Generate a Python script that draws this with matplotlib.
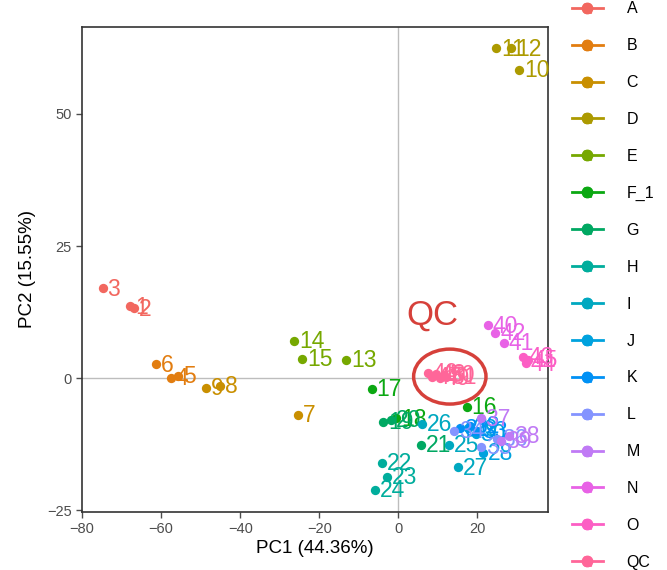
import matplotlib
matplotlib.use("Agg")
import matplotlib.pyplot as plt
from matplotlib.lines import Line2D
from matplotlib.patches import Ellipse
from matplotlib.legend_handler import HandlerTuple

plt.rcParams['font.family'] = ['Liberation Sans', 'DejaVu Sans']

# groups and colours (ggplot hue palette, 16 levels)
groups = ["A", "B", "C", "D", "E", "F_1", "G", "H", "I", "J", "K", "L", "M", "N", "O", "QC"]
colors = ["#F2675F", "#E27D10", "#C98F00", "#AC9A00", "#76A800", "#0BA812", "#00A862",
          "#00AD9C", "#00A8C0", "#00A2DE", "#0091F5", "#8494FF", "#C07AF5", "#E862E6",
          "#FC5EC4", "#FF6699"]

# samples
labels = [str(i) for i in range(1, 52)]
sample_group = (["A"] * 3 + ["B"] * 3 + ["C"] * 3 + ["D"] * 3 + ["E"] * 3 + ["F_1"] * 3
                + ["G"] * 3 + ["H"] * 3 + ["I"] * 3 + ["J"] * 3 + ["K"] * 3 + ["L"] * 3
                + ["M"] * 3 + ["N"] * 3 + ["O"] * 3 + ["QC"] * 6)
pc1 = [-67.8, -66.8, -74.8,
       -57.6, -55.8, -61.4,
       -25.4, -45.1, -48.7,
       30.6, 24.7, 28.5,
       -13.2, -26.4, -24.3,
       17.3, -6.8, -0.6,
       -3.8, -1.8, 5.6,
       -4.1, -3.0, -6.0,
       12.7, 6.0, 15.1,
       21.5, 17.5, 19.5,
       15.5, 18.0, 20.0,
       14.0, 21.0, 25.0,
       20.8, 28.0, 26.0,
       22.6, 26.6, 24.5,
       31.6, 32.3, 32.8,
       7.5, 8.5, 9.5, 10.5, 11.5, 12.0]
pc2 = [13.6, 13.2, 17.0,
       0.1, 0.5, 2.6,
       -6.9, -1.5, -1.8,
       58.3, 62.4, 62.4,
       3.4, 7.1, 3.6,
       -5.5, -2.1, -7.6,
       -8.3, -7.9, -12.6,
       -16.0, -18.7, -21.2,
       -12.6, -8.6, -16.9,
       -14.2, -9.5, -10.5,
       -9.5, -9.0, -10.0,
       -10.0, -13.0, -11.5,
       -7.6, -11.0, -11.8,
       10.0, 6.6, 8.6,
       4.0, 2.8, 3.4,
       1.0, 0.3, 0.8, 0.0, 0.6, 0.2]

color_of = dict(zip(groups, colors))

fig = plt.figure(figsize=(6.67, 5.7), dpi=100)
ax = fig.add_axes([0.123, 0.102, 0.699, 0.851])

ax.axhline(0, color="#BDBDBD", lw=1, zorder=0)
ax.axvline(0, color="#BDBDBD", lw=1, zorder=0)

for lab, g, x, y in zip(labels, sample_group, pc1, pc2):
    c = color_of[g]
    ax.scatter(x, y, s=45, color=c, zorder=3, linewidths=0)
    ax.annotate(lab, (x, y), xytext=(3.5, -0.5), textcoords="offset points",
                ha="left", va="center", fontsize=16.5, color=c, zorder=3)

# QC highlight
ax.add_patch(Ellipse((13, 0.3), 18.3, 10.4, fill=False, edgecolor="#D6403A", lw=2.5, zorder=4))
ax.text(8.6, 11.9, "QC", color="#D6403A", fontsize=25, ha="center", va="center")

ax.set_xlim(-80, 37.9)
ax.set_ylim(-25.3, 66.5)
ax.set_xticks([-80, -60, -40, -20, 0, 20])
ax.set_yticks([-25, 0, 25, 50])
ax.tick_params(colors="#4D4D4D", labelsize=10.5, length=4, width=1)
for s in ax.spines.values():
    s.set_color("#333333")
    s.set_linewidth(1.2)
ax.set_xlabel("PC1 (44.36%)", fontsize=13.5, labelpad=3)
ax.set_ylabel("PC2 (15.55%)", fontsize=13.5, labelpad=8)

handles = [(Line2D([], [], color=c, lw=2, marker="o", ms=7.5),
            Line2D([], [], color=c, ls="", marker=r"$\mathrm{a}$", ms=7))
           for c in colors]
fig.legend(handles, groups, handler_map={tuple: HandlerTuple(ndivide=1)},
           loc="upper left", bbox_to_anchor=(0.846, 1.0115), frameon=False,
           fontsize=11.5, borderpad=0, handlelength=1.9, handletextpad=1.5,
           labelspacing=1.37)

fig.savefig("out.png", dpi=100)
